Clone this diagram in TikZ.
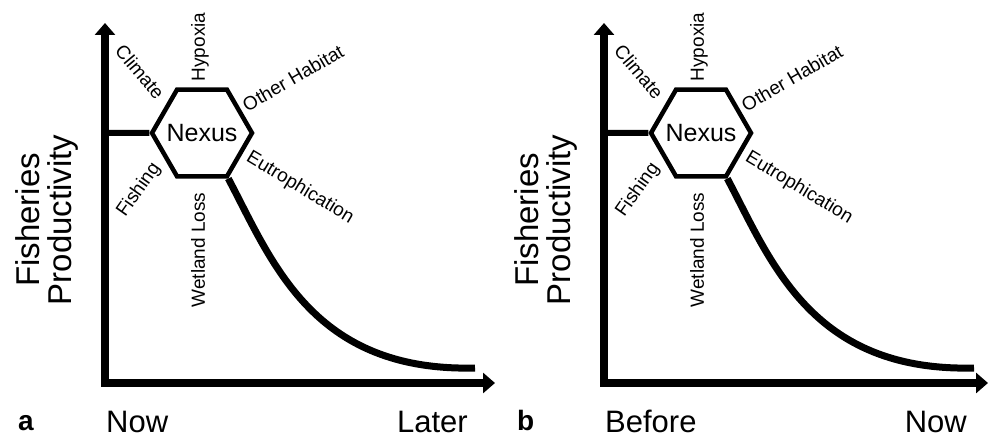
\documentclass[tikz,border=0pt]{standalone}
\usepackage{fontspec}
\setmainfont{Liberation Sans}
\usetikzlibrary{shapes.geometric, arrows.meta}

\tikzset{
    axisline/.style={line width=8pt, line join=miter,
        {Triangle[length=12pt, width=20pt]}-{Triangle[length=12pt, width=20pt]}},
    linkline/.style={line width=6pt},
    declineline/.style={line width=7pt},
    hexbox/.style={draw, regular polygon, regular polygon sides=6, minimum size=100pt,
        line width=4.5pt, inner sep=0pt, font=\fontsize{25}{30}\selectfont},
    factor/.style={inner sep=0pt, font=\fontsize{19}{22}\selectfont},
    ylabel/.style={rotate=90, align=center, inner sep=0pt, font=\fontsize{33}{32}\selectfont},
    timelabel/.style={inner sep=0pt, font=\fontsize{31}{34}\selectfont},
    paneltag/.style={inner sep=0pt, font=\bfseries\fontsize{28}{30}\selectfont}
}

\begin{document}
\begin{tikzpicture}[x=1pt, y=1pt]
    \useasboundingbox (0,0) rectangle (990,437);

    \foreach \dx/\p/\leftword/\rightword/\tip in {0/a/Now/Later/495, 499/b/Before/Now/489} {
    \begin{scope}[shift={(\dx,0)}]
        % Axes
        \coordinate (ytop\p) at (105,414);
        \coordinate (origin\p) at (105,54);
        \coordinate (xend\p) at (\tip,54);
        \draw[axisline] (ytop\p) -- (origin\p) -- (xend\p);

        % Axis texts
        \node[ylabel] (ylab\p) at (47,217) {Fisheries\\Productivity};
        \node[timelabel, anchor=base west] (from\p) at (106,5) {\leftword};
        \node[timelabel, anchor=base east] (to\p) at (468,5) {\rightword};
        \node[paneltag, anchor=base west] (tag\p) at (18,7) {\p};

        % Nexus and its drivers
        \node[hexbox] (nexus\p) at (202,304) {\makebox[0pt]{Nexus}};
        \node[factor, rotate=-50] (climate\p) at (140,365) {Climate};
        \node[factor, rotate=90] (hypoxia\p) at (200,390) {Hypoxia};
        \node[factor, rotate=30] (habitat\p) at (293,359) {Other Habitat};
        \node[factor, rotate=-31] (eutro\p) at (300,249) {Eutrophication};
        \node[factor, rotate=55] (fishing\p) at (139,247) {Fishing};
        \node[factor, rotate=90] (wetland\p) at (198,187) {Wetland Loss};

        % Productivity: flat, then decline
        \coordinate (stem\p) at (105,304);
        \coordinate (low\p) at (475,69);
        \draw[linkline] (stem\p) -- (nexus\p.180);
        \draw[declineline] (nexus\p.-60) .. controls (272,176) and (312,65) .. (low\p);
    \end{scope}
    }
\end{tikzpicture}
\end{document}
